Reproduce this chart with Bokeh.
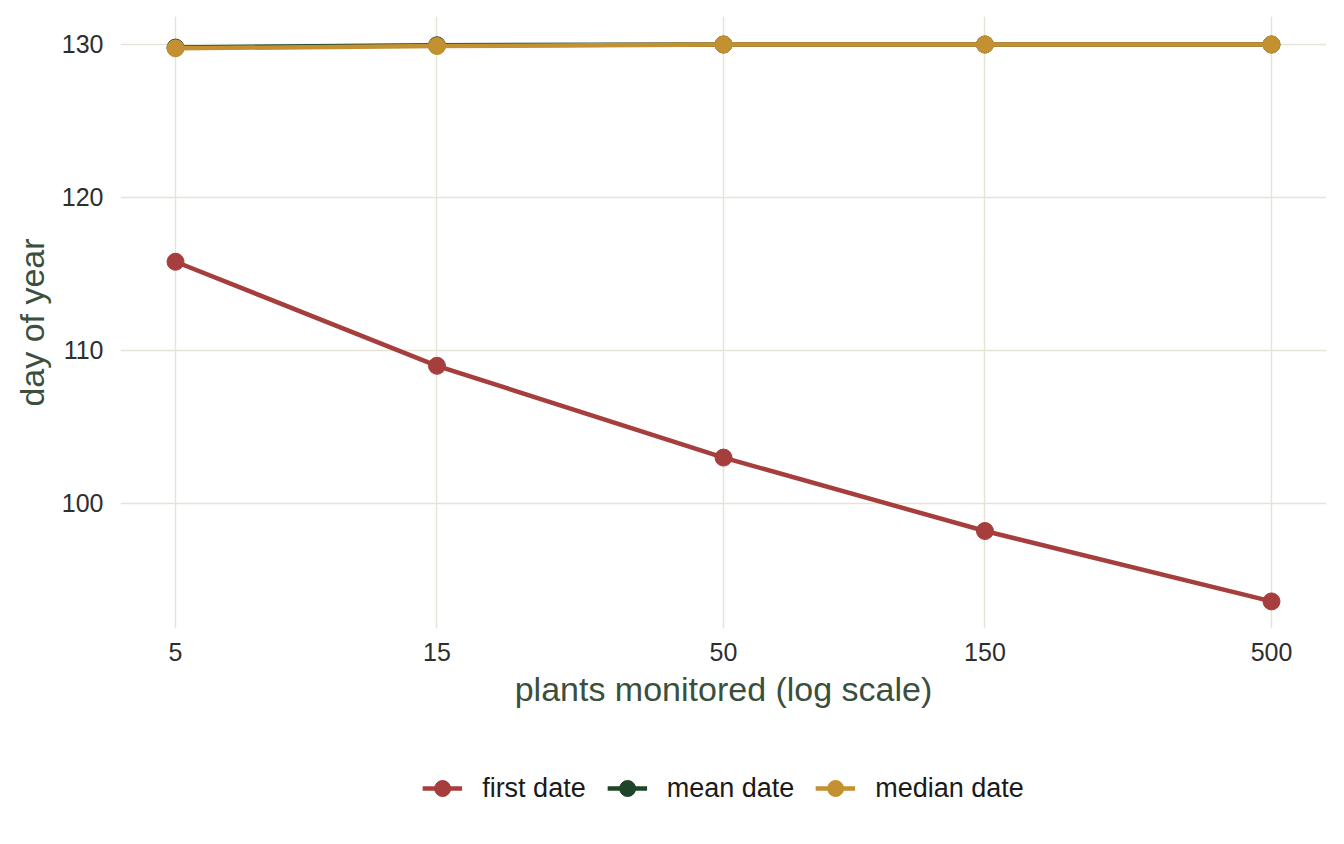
from bokeh.plotting import figure
from bokeh.layouts import column
from bokeh.models import (Range1d, FixedTicker, PrintfTickFormatter, Legend, LegendItem)
from bokeh.embed import file_html
from bokeh.resources import INLINE

# Plants monitored (log scale) and resulting flowering dates (day of year)
plants = [5, 15, 50, 150, 500]
first_date = [115.8, 109.0, 103.0, 98.2, 93.6]
mean_date = [129.8, 129.95, 130.0, 130.0, 130.0]
median_date = [129.75, 129.9, 130.0, 130.0, 130.0]
y_ticks = [100, 110, 120, 130]
series_labels = ["first date", "mean date", "median date"]

FONT = "Liberation Sans"
COLORS = ["#a53e3d", "#1e4429", "#c39131"]
SERIES = [first_date, mean_date, median_date]

p = figure(width=1344, height=740, x_axis_type="log",
           x_range=Range1d(3.968, 630.0), y_range=Range1d(91.83, 131.83),
           output_backend="svg", toolbar_location=None,
           min_border_left=120, min_border_right=18, min_border_top=16,
           min_border_bottom=112)
p.outline_line_color = None
p.background_fill_color = "white"

# axes
p.xaxis.ticker = FixedTicker(ticks=plants, minor_ticks=[])
p.xaxis.formatter = PrintfTickFormatter(format="%d")
p.yaxis.ticker = FixedTicker(ticks=y_ticks, minor_ticks=[])
p.xaxis.axis_label = "plants monitored (log scale)"
p.yaxis.axis_label = "day of year"
for ax in (p.xaxis, p.yaxis):
    ax.axis_line_color = None
    ax.major_tick_line_color = None
    ax.minor_tick_line_color = None
    ax.major_tick_out = 0
    ax.major_tick_in = 0
    ax.major_label_text_font = FONT
    ax.major_label_text_font_size = "25px"
    ax.major_label_text_color = "#2e2e2e"
    ax.axis_label_text_font = FONT
    ax.axis_label_text_font_size = "34px"
    ax.axis_label_text_font_style = "normal"
    ax.axis_label_text_color = "#3a503c"
p.xaxis.major_label_standoff = 14
p.xaxis.axis_label_standoff = 6
p.yaxis.major_label_standoff = 17
p.yaxis.axis_label_standoff = 8

# grid
p.xgrid.ticker = FixedTicker(ticks=plants)
p.ygrid.ticker = FixedTicker(ticks=y_ticks)
for g in (p.xgrid, p.ygrid):
    g.grid_line_color = "#e6e4d5"
    g.grid_line_width = 1.5
    g.minor_grid_line_color = None

for ys, color in zip(SERIES, COLORS):
    p.line(plants, ys, line_color=color, line_width=4.5)
    p.scatter(plants, ys, size=17, fill_color=color, line_color=color)

# legend strip under the chart; its proxy renderers hold the first point of
# each series, which lies outside this strip's own (unit) ranges
leg = figure(width=1344, height=104, x_range=Range1d(0, 1), y_range=Range1d(0, 1),
             output_backend="svg", toolbar_location=None,
             min_border=0, outline_line_color=None)
leg.axis.visible = False
leg.grid.visible = False

items = []
for label, ys, color in zip(series_labels, SERIES, COLORS):
    ln = leg.line(x=plants[:1], y=ys[:1], line_color=color, line_width=4.5)
    pt = leg.scatter(x=plants[:1], y=ys[:1], size=17, fill_color=color, line_color=color)
    items.append(LegendItem(label=label, renderers=[ln, pt]))

legend = Legend(items=items, orientation="horizontal", location="top_center",
                border_line_color=None, background_fill_color=None,
                background_fill_alpha=0, border_line_alpha=0,
                label_text_font=FONT, label_text_font_size="27px",
                label_text_color="#1a1a1a", glyph_width=40, glyph_height=40,
                label_standoff=20, spacing=21, padding=0, margin=28)
leg.add_layout(legend, "center")

layout = column(p, leg, spacing=0)
open("out.html", "w").write(file_html(layout, INLINE))
